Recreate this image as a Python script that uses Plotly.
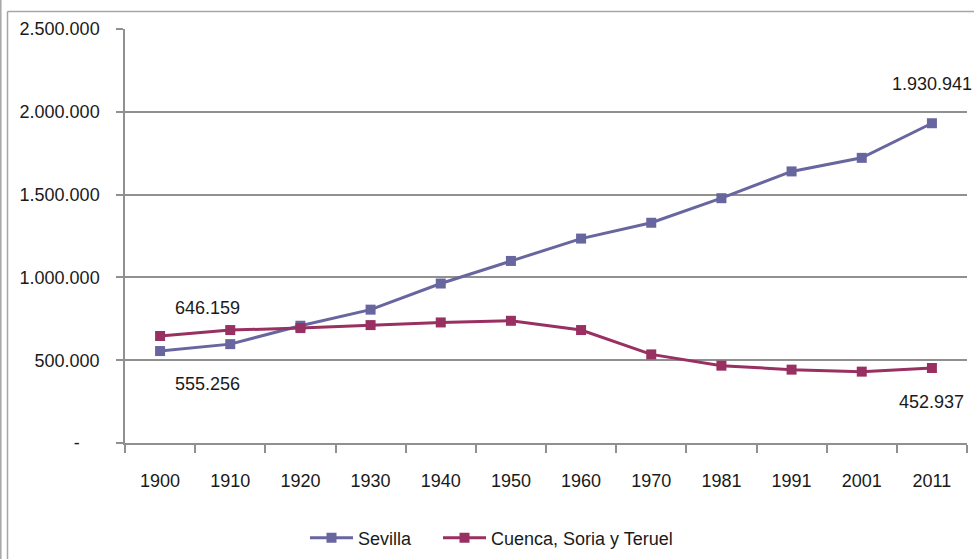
import plotly.graph_objects as go

years = ["1900", "1910", "1920", "1930", "1940", "1950", "1960", "1970", "1981", "1991", "2001", "2011"]
sevilla = [555256, 597031, 708134, 805252, 963044, 1099374, 1234435, 1330000, 1478311, 1640000, 1722000, 1930941]
cst = [646159, 682000, 694000, 712000, 728000, 738000, 682000, 535000, 467000, 443000, 431000, 452937]
ytick_vals = [0, 500000, 1000000, 1500000, 2000000, 2500000]
ytick_text = ["-\u00a0\u00a0\u00a0\u00a0", "500.000", "1.000.000", "1.500.000", "2.000.000", "2.500.000"]

C_SEV = "#67669F"
C_CST = "#983061"
GRID = "#909090"
FONT = "Liberation Sans"
TXT = "#1a1a1a"

def fmt(v):
    return f"{v:,}".replace(",", ".")

fig = go.Figure()
fig.add_trace(go.Scatter(x=years, y=sevilla, name="Sevilla", mode="lines+markers",
                         line=dict(color=C_SEV, width=3), legendwidth=75,
                         marker=dict(symbol="square", size=10, color=C_SEV)))
fig.add_trace(go.Scatter(x=years, y=cst, name="Cuenca, Soria y Teruel", mode="lines+markers",
                         line=dict(color=C_CST, width=3),
                         marker=dict(symbol="square", size=10, color=C_CST)))

ann_font = dict(family=FONT, size=18, color=TXT)
first, last = 0, len(years) - 1
fig.add_annotation(x=last, y=sevilla[last], text=fmt(sevilla[last]), showarrow=False,
                   yshift=39, xshift=0, font=ann_font)
fig.add_annotation(x=first, y=cst[first], text=fmt(cst[first]), showarrow=False,
                   yshift=28, xshift=47, font=ann_font)
fig.add_annotation(x=first, y=sevilla[first], text=fmt(sevilla[first]), showarrow=False,
                   yshift=-33, xshift=47, font=ann_font)
fig.add_annotation(x=last, y=cst[last], text=fmt(cst[last]), showarrow=False,
                   yshift=-34, xshift=0, font=ann_font)

# frame lines (outer border of chart area, as in the picture)
W, H = 842.0, 414.0
L, T = 125.0, 29.0
def px2x(p):
    return (p - L) / W
def py2y(p):
    return (T + H - p) / H

border = dict(color="#A6A6A6", width=1.5)
fig.add_shape(type="line", xref="paper", yref="paper", x0=px2x(0.8), x1=px2x(0.8),
              y0=py2y(0), y1=py2y(559), line=border)
fig.add_shape(type="line", xref="paper", yref="paper", x0=px2x(7.5), x1=px2x(7.5),
              y0=py2y(11.5), y1=py2y(559), line=border)
fig.add_shape(type="line", xref="paper", yref="paper", x0=px2x(7.5), x1=px2x(974),
              y0=py2y(11.5), y1=py2y(11.5), line=border)

fig.update_layout(
    width=974, height=559,
    margin=dict(l=125, r=7, t=29, b=116, autoexpand=False),
    paper_bgcolor="white", plot_bgcolor="white",
    font=dict(family=FONT, size=18, color=TXT),
    showlegend=True,
    legend=dict(orientation="h", x=px2x(305), xanchor="left", y=py2y(538), yanchor="middle",
                font=dict(family=FONT, size=18, color=TXT), itemwidth=43,
                bgcolor="rgba(0,0,0,0)"),
    xaxis=dict(type="category", range=[-0.5, 11.5], showline=True, linecolor=GRID, linewidth=1.5,
               ticks="outside", ticklen=8, tickcolor=GRID, tickwidth=1.5, tickson="boundaries",
               showgrid=False, zeroline=False, ticklabelstandoff=21, automargin=False,
               tickfont=dict(family=FONT, size=18, color=TXT)),
    yaxis=dict(range=[0, 2500000], tickvals=ytick_vals, ticktext=ytick_text,
               showline=True, linecolor=GRID, linewidth=1.5,
               ticks="outside", ticklen=7, tickcolor=GRID, tickwidth=1.5,
               showgrid=True, gridcolor=GRID, gridwidth=1.5, zeroline=False,
               ticklabelstandoff=13, automargin=False,
               tickfont=dict(family=FONT, size=18, color=TXT)),
)

fig.write_html("out.html", config={"displayModeBar": False},
               post_script="document.body.style.margin='0px';")
